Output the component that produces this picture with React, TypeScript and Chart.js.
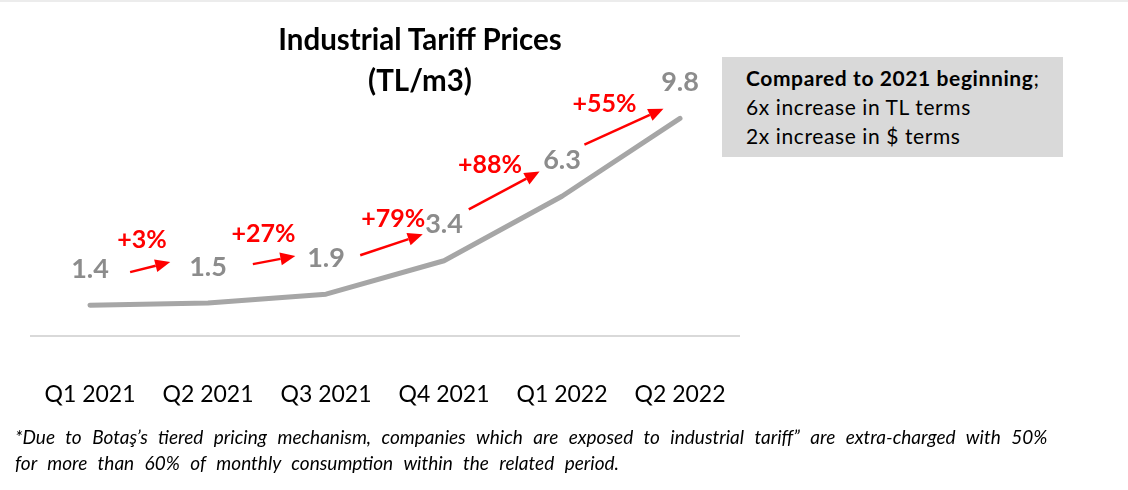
import React, { useEffect, useRef } from "react";
import { Chart, registerables } from "chart.js";

Chart.register(...registerables);

const categories = ["Q1 2021", "Q2 2021", "Q3 2021", "Q4 2021", "Q1 2022", "Q2 2022"];
const prices = [1.4, 1.5, 1.9, 3.4, 6.3, 9.8];
const changeLabels = ["+3%", "+27%", "+79%", "+88%", "+55%"];

// annotation placement in data space (category index, value)
const annotations = [
  { label: [0.44, 4.33], from: [0.34, 2.89], to: [0.68, 3.34] },
  { label: [1.47, 4.59], from: [1.38, 3.25], to: [1.74, 3.61] },
  { label: [2.57, 5.3], from: [2.29, 3.65], to: [2.82, 4.59] },
  { label: [3.39, 7.72], from: [3.21, 5.71], to: [3.81, 7.41] },
  { label: [4.36, 10.46], from: [4.19, 8.62], to: [4.86, 10.24] },
];

const FONT = "Lato, 'Open Sans', sans-serif";

const labelsPlugin = {
  id: "labelsPlugin",
  afterDatasetsDraw(chart: any) {
    const ctx = chart.ctx;
    const xs = chart.scales.x;
    const ys = chart.scales.y;
    const meta = chart.getDatasetMeta(0);
    ctx.save();
    ctx.font = `bold 27px ${FONT}`;
    ctx.fillStyle = "#8c8c8c";
    ctx.textAlign = "center";
    ctx.textBaseline = "middle";
    meta.data.forEach((pt: any, i: number) => {
      ctx.fillText(prices[i].toFixed(1), pt.x, pt.y - 36);
    });
    ctx.fillStyle = "#ff0000";
    ctx.strokeStyle = "#ff0000";
    ctx.font = `bold 25px ${FONT}`;
    annotations.forEach((a, i) => {
      const lx = xs.getPixelForValue(a.label[0]);
      const ly = ys.getPixelForValue(a.label[1]);
      ctx.fillText(changeLabels[i], lx, ly);
      const x1 = xs.getPixelForValue(a.from[0]);
      const y1 = ys.getPixelForValue(a.from[1]);
      const x2 = xs.getPixelForValue(a.to[0]);
      const y2 = ys.getPixelForValue(a.to[1]);
      const ang = Math.atan2(y2 - y1, x2 - x1);
      const head = 15;
      const hw = 6.5;
      const bx = x2 - head * Math.cos(ang);
      const by = y2 - head * Math.sin(ang);
      ctx.lineWidth = 2.5;
      ctx.beginPath();
      ctx.moveTo(x1, y1);
      ctx.lineTo(bx, by);
      ctx.stroke();
      ctx.beginPath();
      ctx.moveTo(x2, y2);
      ctx.lineTo(bx + hw * Math.sin(ang), by - hw * Math.cos(ang));
      ctx.lineTo(bx - hw * Math.sin(ang), by + hw * Math.cos(ang));
      ctx.closePath();
      ctx.fill();
    });
    ctx.restore();
  },
};

export default function App() {
  const ref = useRef<HTMLCanvasElement>(null);
  useEffect(() => {
    if (!ref.current) return;
    const chart = new Chart(ref.current, {
      type: "line",
      data: {
        labels: categories,
        datasets: [
          {
            data: prices,
            borderColor: "#a6a6a6",
            borderWidth: 5,
            borderCapStyle: "round",
            borderJoinStyle: "round",
            pointRadius: 0,
            tension: 0,
          },
        ],
      },
      options: {
        responsive: false,
        animation: false,
        layout: { padding: { left: 31, right: 31, top: 25, bottom: 9 } },
        plugins: { legend: { display: false }, tooltip: { enabled: false } },
        scales: {
          x: {
            offset: true,
            grid: { display: false },
            border: { display: true, color: "#d9d9d9", width: 2 },
            ticks: { color: "#000", font: { family: FONT, size: 23 }, padding: 36, maxRotation: 0 },
          },
          y: { display: false, min: 0, max: 14 },
        },
      },
      plugins: [labelsPlugin],
    });
    return () => chart.destroy();
  }, []);

  return (
    <div style={{ position: "absolute", left: 0, top: 0, width: 1128, height: 490, background: "#fff", overflow: "hidden", fontFamily: FONT }}>
      <div style={{ position: "absolute", left: 0, top: 0, width: 1128, height: 2, background: "#ececec" }} />
      <canvas ref={ref} width={770} height={453} style={{ position: "absolute", left: 0, top: 0 }} />
      <div style={{ position: "absolute", left: 220, top: 18, width: 400, textAlign: "center", fontWeight: "bold", fontSize: 29.5, lineHeight: "41px", color: "#000" }}>
        Industrial Tariff Prices
        <br />
        (TL/m3)
      </div>
      <div style={{ position: "absolute", left: 722, top: 57, width: 341, height: 100, background: "#d9d9d9", boxSizing: "border-box", padding: "6px 0 0 24px", fontSize: 21, lineHeight: "29px", color: "#000", letterSpacing: 0.6, whiteSpace: "nowrap" }}>
        <div><b>Compared to 2021 beginning</b>;</div>
        <div>6x increase in TL terms</div>
        <div>2x increase in $ terms</div>
      </div>
      <div style={{ position: "absolute", left: 15, top: 424, width: 1110, fontStyle: "italic", fontSize: 19, lineHeight: "26px", color: "#000", wordSpacing: 6, whiteSpace: "nowrap" }}>
        *Due to Botaş’s tiered pricing mechanism, companies which are exposed to industrial tariff” are extra-charged with 50%
        <br />
        for more than 60% of monthly consumption within the related period.
      </div>
    </div>
  );
}
